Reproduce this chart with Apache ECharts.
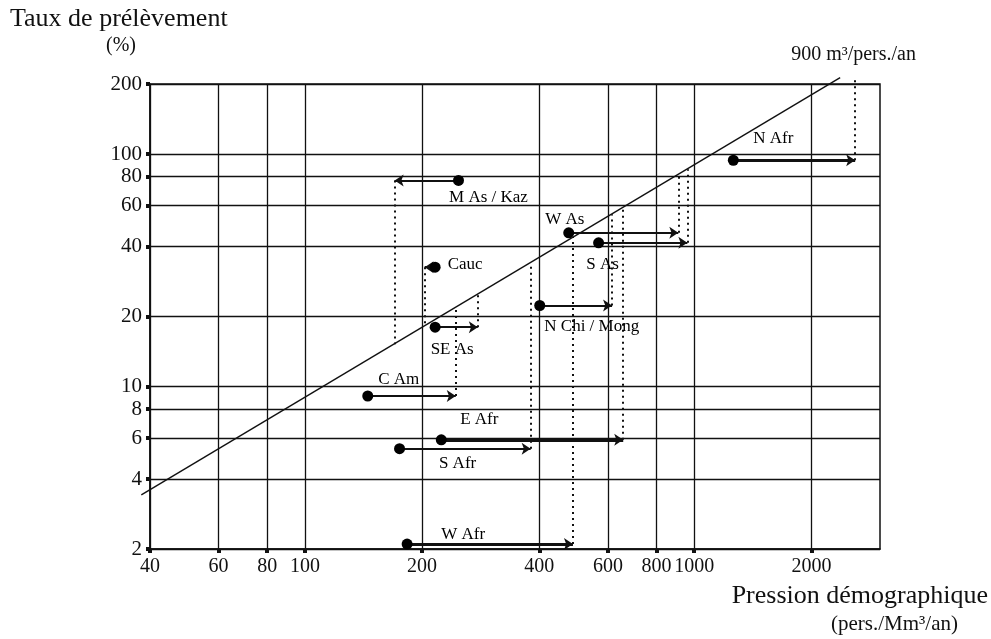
<!DOCTYPE html>
<html>
<head>
<meta charset="utf-8">
<script src="https://cdn.jsdelivr.net/npm/echarts@6/dist/echarts.min.js"></script>
<style>
  html, body { margin: 0; padding: 0; background: #fff; }
  #chart { width: 991px; height: 639px; }
</style>
</head>
<body>
<div id="chart"></div>
<script>
// tick values on both log axes
const xTicks = [40, 60, 80, 100, 200, 400, 600, 800, 1000, 2000];
const yTicks = [2, 4, 6, 8, 10, 20, 40, 60, 80, 100, 200];

// one entry per region: dot = present, arrow tip = projected
const regions = ['M As / Kaz', 'Cauc', 'SE As', 'C Am', 'E Afr', 'S Afr', 'W Afr', 'W As', 'S As', 'N Chi / Mong', 'N Afr'];
const pressureFrom = [248, 216, 216, 145, 224, 175, 183, 476, 568, 401, 1260];
const pressureTo = [170, 203, 278, 244, 657, 380, 488, 910, 960, 615, 2590];
const withdrawal = [77, 32.6, 18, 9.1, 5.9, 5.4, 2.1, 45.8, 41.5, 22.3, 94];
// where the dotted guide from each arrow tip meets the 900 m3 line
const guideTo = [15.2, 18.3, 25, 22, 59, 34, 44, 82, 86, 55, 212];
// the 900 m3/pers./an reference line
const line900 = [[38, 3.42], [2370, 213]];
const heavyArrows = ['E Afr', 'W Afr', 'N Afr'];

// label placement around each dot (px)
const labelOffsets = [[30, 17], [30, -3], [17, 22], [31, -16], [38, -20], [58, 15], [56, -10], [-4, -13], [4, 22], [52, 21], [40, -22]];

const ink = '#111';
const serif = 'Liberation Serif';

const chart = echarts.init(document.getElementById('chart'));

const dots = regions.map((name, i) => ({
  name,
  value: [pressureFrom[i], withdrawal[i]],
  label: { offset: labelOffsets[i] }
}));

const arrowData = regions.map((name, i) => ({
  coords: [[pressureFrom[i], withdrawal[i]], [pressureTo[i], withdrawal[i]]],
  lineStyle: { width: heavyArrows.includes(name) ? 3.2 : 2 }
}));

const guideData = regions.map((name, i) => ({
  coords: [[pressureTo[i], withdrawal[i]], [pressureTo[i], guideTo[i]]]
}));

chart.setOption({
  animation: false,
  backgroundColor: '#fff',
  grid: {
    left: 150, right: 111, top: 84, bottom: 90,
    show: true, borderColor: ink, borderWidth: 1.5
  },
  xAxis: {
    type: 'log', logBase: 10, min: 40, max: 3000,
    axisLine: { lineStyle: { color: ink, width: 1.5 } },
    axisTick: { customValues: xTicks, length: 4, lineStyle: { color: ink, width: 4 } },
    axisLabel: {
      customValues: xTicks, margin: 8, color: ink,
      fontFamily: serif, fontSize: 20,
      formatter: v => String(Math.round(v))
    },
    splitLine: { show: true, lineStyle: { color: ink, width: 1.3 } },
    minorTick: { show: false }
  },
  yAxis: {
    type: 'log', logBase: 10, min: 2, max: 200,
    axisLine: { lineStyle: { color: ink, width: 1.5 } },
    axisTick: { customValues: yTicks, length: 4, lineStyle: { color: ink, width: 4 } },
    axisLabel: {
      customValues: yTicks, margin: 8, color: ink,
      fontFamily: serif, fontSize: 21,
      formatter: v => String(Math.round(v))
    },
    splitLine: { show: true, lineStyle: { color: ink, width: 1.3 } },
    minorTick: { show: false }
  },
  series: [
    {
      type: 'lines',
      coordinateSystem: 'cartesian2d',
      data: [{ coords: line900 }],
      clip: false,
      lineStyle: { color: ink, width: 1.4, opacity: 1 },
      z: 3
    },
    {
      type: 'lines',
      coordinateSystem: 'cartesian2d',
      data: guideData,
      clip: false,
      lineStyle: { color: ink, width: 2, type: [2, 4], opacity: 1 },
      z: 2
    },
    {
      type: 'lines',
      coordinateSystem: 'cartesian2d',
      data: arrowData,
      symbol: ['none', 'arrow'],
      symbolSize: 9,
      lineStyle: { color: ink, opacity: 1 },
      z: 4
    },
    {
      type: 'scatter',
      data: dots,
      symbol: 'circle',
      symbolSize: 11,
      itemStyle: { color: '#000', opacity: 1 },
      label: {
        show: true,
        position: 'inside',
        formatter: p => p.name,
        color: '#000',
        opacity: 1,
        fontFamily: serif,
        fontSize: 17
      },
      emphasis: { disabled: true },
      z: 5
    }
  ],
  graphic: [
    { type: 'text', left: 10, top: 6, style: { text: 'Taux de prélèvement', font: '26px "Liberation Serif"', fill: ink } },
    { type: 'text', left: 106, top: 36, style: { text: '(%)', font: '20px "Liberation Serif"', fill: ink } },
    { type: 'text', right: 75, top: 45, style: { text: '900 m³/pers./an', font: '20px "Liberation Serif"', fill: ink } },
    { type: 'text', right: 3, top: 583, style: { text: 'Pression démographique', font: '26px "Liberation Serif"', fill: ink } },
    { type: 'text', right: 33, top: 614, style: { text: '(pers./Mm³/an)', font: '21px "Liberation Serif"', fill: ink } }
  ]
});
</script>
</body>
</html>
